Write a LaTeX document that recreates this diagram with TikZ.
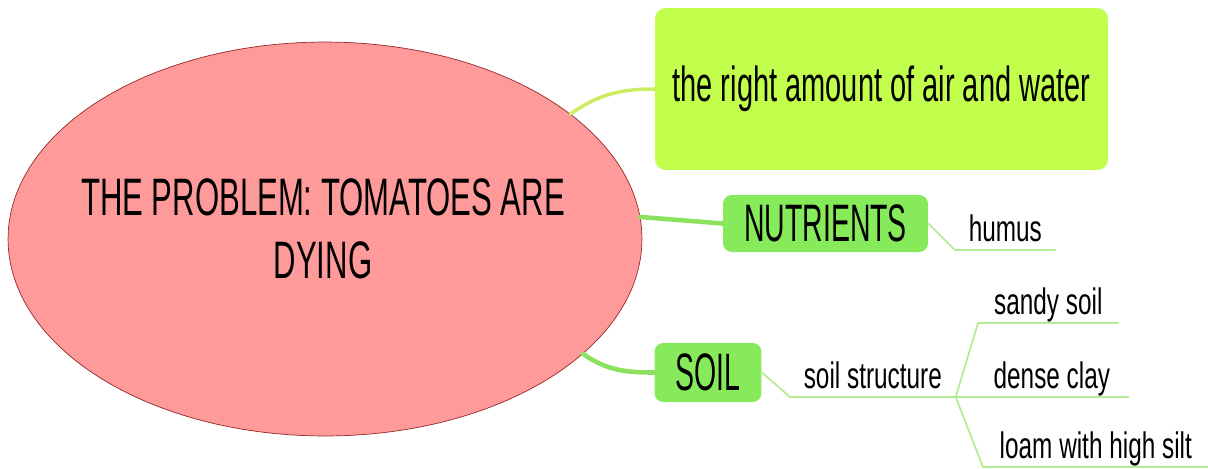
\documentclass[tikz,border=0pt]{standalone}
\usepackage{fontspec}
\setmainfont{Liberation Sans}
\newfontfamily\bigtext{Liberation Sans}[FakeStretch=0.59]
\newfontfamily\boxtext{Liberation Sans}[FakeStretch=0.54]
\newfontfamily\leaftext{Liberation Sans}[FakeStretch=0.66]
\usepackage{xcolor}
\definecolor{rootpink}{RGB}{255,154,154}
\definecolor{rootedge}{RGB}{150,40,40}
\definecolor{limefill}{RGB}{194,255,77}
\definecolor{greenfill}{RGB}{134,234,90}
\definecolor{limeline}{RGB}{204,236,100}
\definecolor{greenline}{RGB}{140,226,95}
\definecolor{leafline}{RGB}{180,236,150}
\usepackage{tikz}
\usetikzlibrary{positioning,shapes.geometric}

\begin{document}
\begin{tikzpicture}[
    x=0.02cm, y=-0.02cm,
    root/.style={draw=rootedge, ellipse, fill=rootpink, minimum width=12.68cm, minimum height=7.88cm, inner sep=0pt},
    title/.style={align=center, inner sep=0pt, font=\bigtext\fontsize{30}{36}\selectfont},
    mainbox/.style={fill=limefill, rounded corners=6pt, inner sep=0pt, font=\bigtext\fontsize{28}{30}\selectfont},
    subbox/.style={fill=greenfill, rounded corners=5pt, inner sep=0pt, font=\boxtext\fontsize{30}{32}\selectfont},
    leaf/.style={anchor=south west, inner xsep=0pt, inner ysep=4.5pt, text depth=0pt, font=\leaftext\fontsize{21}{24}\selectfont},
    limb/.style={line width=2pt, line cap=round},
    twig/.style={draw=leafline, line width=1pt}
]
\useasboundingbox (0,0) rectangle (1208,468);

% Central topic
\node (problem) [root] at (325,239) {};
\node (title) [title] at (323,229) {THE PROBLEM: TOMATOES ARE\\DYING};

% Main branches
\node (airwater) [mainbox, minimum width=9.06cm, minimum height=3.24cm] at (881.5,89) {the right amount of air and water};
\node (nutrients) [subbox, minimum width=4.1cm, minimum height=1.14cm] at (825.5,223.5) {NUTRIENTS};
\node (soil) [subbox, minimum width=2.14cm, minimum height=1.18cm] at (708,372.5) {SOIL};

% Leaves
\node (humus) [leaf, minimum width=2cm] at (955,250) {humus};
\node (structure) [leaf, minimum width=3.3cm] at (790,397) {soil structure};
\node (sandy) [leaf, minimum width=2.8cm] at (978,323) {sandy soil};
\node (clay) [leaf, minimum width=3.06cm] at (975,397) {dense clay};
\node (loam) [leaf, minimum width=4.5cm] at (983,467) {loam with high silt};

% Links
\draw [limb, draw=limeline] (problem.27) to[out=35, in=180] (airwater.west);
\draw [limb, draw=greenline, line width=2.6pt] (problem.4) -- (nutrients.west);
\draw [limb, draw=greenline, line width=2.6pt] (problem.-24) to[out=-35, in=180] (soil.west);

\draw [twig] (nutrients.east) -- (humus.south west) -- (humus.south east);
\draw [twig] (soil.east) -- (structure.south west) -- (structure.south east);
\draw [twig] (structure.south east) -- (sandy.south west) -- (sandy.south east);
\draw [twig] (structure.south east) -- (clay.south west) -- (clay.south east);
\draw [twig] (structure.south east) -- (loam.south west) -- (loam.south east);
\end{tikzpicture}
\end{document}
